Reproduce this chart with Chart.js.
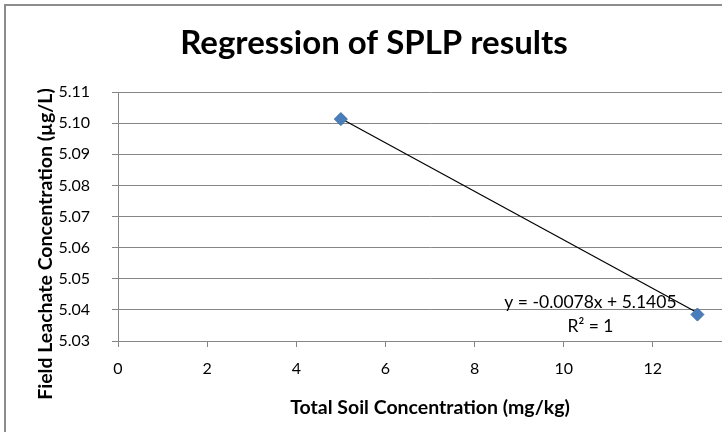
<!DOCTYPE html>
<html lang="en">
<head>
  <meta charset="UTF-8" />
  <title>Regression of SPLP results</title>
  <script src="https://cdn.jsdelivr.net/npm/chart.js"></script>
  <style>
    html, body { margin: 0; padding: 0; background: #fff; overflow: hidden; }
    #frame { position: absolute; left: 4px; top: 4px; width: 772px; height: 470px; border: 2px solid #8c8c8c; }
    canvas { display: block; }
  </style>
</head>
<body>
  <div id="frame"><canvas id="splpChart" width="772" height="470"></canvas></div>

  <script>
    // SPLP results: total soil vs field leachate concentration
    const soilConc = [5, 13];                 // mg/kg
    const leachateConc = [5.1013, 5.0385];    // µg/L

    // linear trendline as printed on the chart
    const trendSlope = -0.0078;
    const trendIntercept = 5.1405;
    const trendSpan = [5, 13];
    const trendLabel = ["y = -0.0078x + 5.1405", "R² = 1"];

    const xTickValues = [0, 2, 4, 6, 8, 10, 12, 14];
    const yTickValues = [5.03, 5.04, 5.05, 5.06, 5.07, 5.08, 5.09, 5.10, 5.11];

    const FONT = "Lato, 'Open Sans', sans-serif";
    const GRID = "#868686";

    // y-axis title and trendline equation
    const extraText = {
      id: "extraText",
      afterDraw(chart) {
        const ctx = chart.ctx;
        const xs = chart.scales.x, ys = chart.scales.y;
        ctx.save();
        ctx.fillStyle = "#000";
        ctx.textAlign = "center";
        ctx.textBaseline = "middle";

        ctx.font = "bold 19.5px " + FONT;
        ctx.translate(40, 238);
        ctx.rotate(-Math.PI / 2);
        ctx.fillText("Field Leachate Concentration (µg/L)", 0, 0);
        ctx.setTransform(1, 0, 0, 1, 0, 0);

        ctx.font = "17.5px " + FONT;
        const lx = xs.getPixelForValue(10.6);
        const ly = ys.getPixelForValue(5.0423);
        ctx.fillText(trendLabel[0], lx, ly);
        ctx.fillText(trendLabel[1], lx, ly + 24);
        ctx.restore();
      }
    };

    new Chart(document.getElementById("splpChart"), {
      type: "scatter",
      data: {
        datasets: [
          {
            label: "SPLP",
            data: soilConc.map((x, i) => ({ x, y: leachateConc[i] })),
            pointStyle: "rectRot",
            pointRadius: 6.5,
            pointHoverRadius: 6.5,
            backgroundColor: "#4a7ebb",
            borderColor: "#3d6ea8",
            borderWidth: 1,
            order: 0
          },
          {
            label: "Linear",
            type: "line",
            data: trendSpan.map(x => ({ x, y: trendSlope * x + trendIntercept })),
            borderColor: "#000",
            borderWidth: 1.2,
            pointRadius: 0,
            fill: false,
            order: 1
          }
        ]
      },
      options: {
        responsive: false,
        animation: false,
        layout: { padding: { left: 0, right: 36, top: 0, bottom: 51 } },
        plugins: {
          legend: { display: false },
          tooltip: { enabled: false },
          title: {
            display: true,
            text: "Regression of SPLP results",
            color: "#000",
            font: { family: FONT, size: 33, weight: "bold", lineHeight: 1.2 },
            padding: { top: 17.7, bottom: 28.7 }
          }
        },
        scales: {
          x: {
            type: "linear",
            min: 0,
            max: 14,
            afterBuildTicks: s => { s.ticks = xTickValues.map(v => ({ value: v })); },
            afterFit: s => { s.height = 84; },
            grid: { drawOnChartArea: false, tickLength: 6, color: GRID },
            border: { color: GRID, width: 1 },
            ticks: { color: "#000", padding: 12, font: { family: FONT, size: 16 } },
            title: {
              display: true,
              text: "Total Soil Concentration (mg/kg)",
              color: "#000",
              font: { family: FONT, size: 19.5, weight: "bold", lineHeight: 1.2 },
              padding: { top: 0, bottom: 5.3 }
            }
          },
          y: {
            min: 5.03,
            max: 5.11,
            afterBuildTicks: s => { s.ticks = yTickValues.map(v => ({ value: v })); },
            afterFit: s => { s.width = 112; },
            grid: { tickLength: 6, color: GRID },
            border: { color: GRID, width: 1 },
            ticks: {
              color: "#000",
              padding: 22,
              font: { family: FONT, size: 16 },
              callback: v => Number(v).toFixed(2)
            }
          }
        }
      },
      plugins: [extraText]
    });
  </script>
</body>
</html>
